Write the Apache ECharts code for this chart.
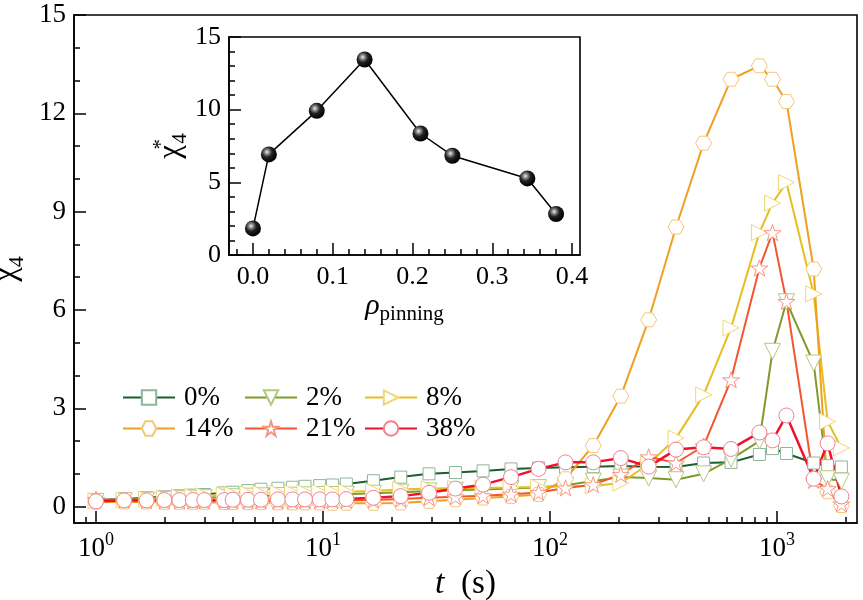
<!DOCTYPE html>
<html><head><meta charset="utf-8">
<script src="https://cdn.jsdelivr.net/npm/echarts@6/dist/echarts.min.js"></script>
<style>html,body{margin:0;padding:0;background:#fff}#c{width:863px;height:600px}</style>
</head><body><div id="c"></div>
<script>
// ---- data ----
const tValues = [1, 1.33, 1.67, 2, 2.33, 2.67, 3, 3.67, 4, 4.67, 5.33, 6.33, 7.33, 8.33, 9.67, 11, 12.67, 16.67, 22, 29.3, 38.3, 50.7, 67.3, 89, 117, 155, 205, 272, 359, 475, 627, 836, 955, 1100, 1450, 1670, 1920];
const chi0 = [0.2, 0.23, 0.27, 0.3, 0.33, 0.35, 0.37, 0.42, 0.44, 0.49, 0.53, 0.56, 0.59, 0.62, 0.64, 0.66, 0.69, 0.79, 0.9, 1.0, 1.04, 1.09, 1.15, 1.18, 1.2, 1.22, 1.24, 1.22, 1.21, 1.33, 1.35, 1.59, 1.77, 1.62, 1.33, 1.25, 1.21];
const chi2 = [0.16, 0.18, 0.2, 0.22, 0.24, 0.26, 0.27, 0.29, 0.3, 0.32, 0.33, 0.34, 0.35, 0.36, 0.37, 0.37, 0.38, 0.41, 0.44, 0.48, 0.5, 0.52, 0.55, 0.58, 0.65, 0.78, 0.9, 0.87, 0.82, 1.0, 1.45, 2.0, 4.74, 6.25, 4.38, 0.85, 0.78];
const chi8 = [0.18, 0.2, 0.23, 0.26, 0.29, 0.31, 0.33, 0.36, 0.37, 0.39, 0.4, 0.41, 0.42, 0.43, 0.44, 0.44, 0.45, 0.48, 0.52, 0.55, 0.56, 0.57, 0.58, 0.6, 0.62, 0.63, 0.72, 1.3, 2.09, 3.41, 5.45, 8.36, 9.26, 9.89, 6.49, 2.6, 1.79];
const chi14 = [0.14, 0.14, 0.14, 0.13, 0.13, 0.13, 0.13, 0.12, 0.12, 0.12, 0.12, 0.11, 0.11, 0.11, 0.11, 0.1, 0.1, 0.1, 0.11, 0.16, 0.21, 0.26, 0.31, 0.37, 0.85, 1.86, 3.37, 5.7, 8.53, 11.09, 13.04, 13.45, 13.04, 12.36, 7.25, 0.45, 0.03];
const chi21 = [0.22, 0.2, 0.18, 0.17, 0.17, 0.17, 0.17, 0.17, 0.17, 0.17, 0.17, 0.17, 0.17, 0.18, 0.18, 0.19, 0.19, 0.2, 0.23, 0.27, 0.3, 0.33, 0.38, 0.43, 0.57, 0.67, 0.98, 1.52, 1.33, 1.85, 3.87, 7.28, 8.36, 6.26, 0.8, 0.55, 0.08];
const chi38 = [0.16, 0.19, 0.19, 0.2, 0.2, 0.2, 0.2, 0.2, 0.21, 0.21, 0.21, 0.22, 0.22, 0.22, 0.22, 0.22, 0.23, 0.27, 0.32, 0.42, 0.55, 0.67, 0.9, 1.15, 1.35, 1.35, 1.48, 1.22, 1.74, 1.81, 1.76, 2.26, 2.02, 2.78, 0.85, 1.93, 0.31];
const seriesNames = ['0%', '2%', '8%', '14%', '21%', '38%'];

const rhoPinning = [0, 0.02, 0.08, 0.14, 0.21, 0.25, 0.344, 0.38];
const chiStar = [1.83, 6.92, 9.92, 13.45, 8.36, 6.83, 5.27, 2.82];

const mainYLabels = [0, 3, 6, 9, 12, 15];
const mainYMinor = [1, 2, 4, 5, 7, 8, 10, 11, 13, 14];
const mainXLabels = [1, 10, 100, 1000];
const mainXMinor = [0.9, 2, 3, 4, 5, 6, 7, 8, 9, 20, 30, 40, 50, 60, 70, 80, 90, 200, 300, 400, 500, 600, 700, 800, 900, 2000];
const insetXLabels = [0, 0.1, 0.2, 0.3, 0.4];
const insetXMinor = [-0.02, 0.02, 0.04, 0.06, 0.08, 0.12, 0.14, 0.16, 0.18, 0.22, 0.24, 0.26, 0.28, 0.32, 0.34, 0.36, 0.38];

// ---- styling ----
const FONT = 'Liberation Serif';
const hexPath = 'path://M-10,0L-5,-8.66L5,-8.66L10,0L5,8.66L-5,8.66Z';
const starPath = 'path://M0,-10L2.245,-3.09L9.511,-3.09L3.633,1.18L5.878,8.09L0,3.82L-5.878,8.09L-3.633,1.18L-9.511,-3.09L-2.245,-3.09Z';

function tok(size, extra) {
  return Object.assign({ fontFamily: FONT, fontSize: size, color: '#000' }, extra || {});
}

function lineSeries(name, vals, color, edge, symbol, size, rotate, width) {
  return {
    name: name, type: 'line', xAxisIndex: 0, yAxisIndex: 0,
    data: tValues.map((t, i) => [t, vals[i]]),
    symbol: symbol, symbolSize: size, symbolRotate: rotate, symbolKeepAspect: true,
    showSymbol: true, showAllSymbol: true,
    lineStyle: { color: color, width: width },
    itemStyle: { color: '#fff', borderColor: edge, borderWidth: 1 },
    emphasis: { disabled: true },
    silent: true
  };
}

const axisLineStyle = { color: '#000', width: 1.6 };
const tickStyle = { color: '#000', width: 1.5 };

const chart = echarts.init(document.getElementById('c'));
const legendCommon = {
  orient: 'vertical', top: 379, itemWidth: 52, itemHeight: 18, itemGap: 4,
  selectedMode: false,
  formatter: n => '{a|' + n + '}',
  textStyle: tok(27, { lineHeight: 27, rich: { a: tok(27, { lineHeight: 27, padding: [0, 0, 0, 4] }) } })
};

chart.setOption({
  animation: false,
  backgroundColor: '#fff',
  textStyle: { fontFamily: FONT },
  grid: [
    { left: 74, top: 15, right: 6, bottom: 77, show: true, borderColor: '#000', borderWidth: 1.6, outerBoundsMode: 'none', containLabel: false },
    { left: 229, top: 37, right: 283, bottom: 345, show: true, borderColor: '#000', borderWidth: 1.6, backgroundColor: '#fff', outerBoundsMode: 'none', containLabel: false }
  ],
  legend: [
    Object.assign({ left: 117, data: ['0%', '14%'] }, legendCommon),
    Object.assign({ left: 239, data: ['2%', '21%'] }, legendCommon),
    Object.assign({ left: 359, data: ['8%', '38%'] }, legendCommon)
  ],
  xAxis: [
    {
      type: 'log', logBase: 10, gridIndex: 0, min: 0.8, max: 2250, position: 'bottom',
      axisLine: { show: true, onZero: false, lineStyle: axisLineStyle },
      axisTick: { show: true, inside: true, length: 12, customValues: mainXLabels, lineStyle: tickStyle },
      axisLabel: {
        customValues: mainXLabels, margin: 8,
        formatter: v => '{b|10}{sup|' + Math.round(Math.log10(v)) + '}',
        rich: {
          b: tok(27, { lineHeight: 31, verticalAlign: 'bottom' }),
          sup: tok(18, { lineHeight: 31, verticalAlign: 'top' })
        }
      },
      splitLine: { show: false },
      name: '{it|t}{n|  (s)}', nameLocation: 'middle', nameGap: 40,
      nameTextStyle: tok(33, { rich: { it: tok(34, { fontStyle: 'italic' }), n: tok(33) } })
    },
    {
      type: 'log', logBase: 10, gridIndex: 0, min: 0.8, max: 2250, position: 'bottom',
      axisLine: { show: false, onZero: false },
      axisTick: { show: true, inside: true, length: 6, customValues: mainXMinor, lineStyle: tickStyle },
      axisLabel: { show: false }, splitLine: { show: false }
    },
    {
      type: 'value', gridIndex: 1, min: -0.03, max: 0.41, position: 'bottom',
      axisLine: { show: true, onZero: false, lineStyle: axisLineStyle },
      axisTick: { show: true, inside: true, length: 12, customValues: insetXLabels, lineStyle: tickStyle },
      axisLabel: { customValues: insetXLabels, margin: 9, formatter: v => '{a|' + v.toFixed(1) + '}', rich: { a: tok(26) } },
      splitLine: { show: false },
      name: '{r|ρ}{s|pinning}', nameLocation: 'middle', nameGap: 36,
      nameTextStyle: tok(21, {
        rich: {
          r: tok(30, { fontStyle: 'italic', lineHeight: 34, verticalAlign: 'top' }),
          s: tok(21, { lineHeight: 34, verticalAlign: 'bottom' })
        }
      })
    },
    {
      type: 'value', gridIndex: 1, min: -0.03, max: 0.41, position: 'bottom',
      axisLine: { show: false, onZero: false },
      axisTick: { show: true, inside: true, length: 6, customValues: insetXMinor, lineStyle: tickStyle },
      axisLabel: { show: false }, splitLine: { show: false }
    }
  ],
  yAxis: [
    {
      type: 'value', gridIndex: 0, min: -0.5, max: 15, position: 'left',
      axisLine: { show: true, onZero: false, lineStyle: axisLineStyle },
      axisTick: { show: true, inside: true, length: 12, customValues: mainYLabels, lineStyle: tickStyle },
      axisLabel: { customValues: mainYLabels, margin: 8, formatter: v => '{a|' + v + '}', rich: { a: tok(27) } },
      splitLine: { show: false },
      name: '{c|χ}{sub|4}', nameLocation: 'middle', nameGap: 40, nameRotate: 90,
      nameTextStyle: tok(33, {
        rich: {
          c: tok(33, { lineHeight: 38, verticalAlign: 'top' }),
          sub: tok(22, { lineHeight: 38, verticalAlign: 'bottom' })
        }
      })
    },
    {
      type: 'value', gridIndex: 0, min: -0.5, max: 15, position: 'left',
      axisLine: { show: false, onZero: false },
      axisTick: { show: true, inside: true, length: 6, customValues: mainYMinor, lineStyle: tickStyle },
      axisLabel: { show: false }, splitLine: { show: false }
    },
    {
      type: 'value', gridIndex: 1, min: 0, max: 15, interval: 5, position: 'left',
      axisLine: { show: true, onZero: false, lineStyle: axisLineStyle },
      axisTick: { show: true, inside: true, length: 12, lineStyle: tickStyle },
      minorTick: { show: true, splitNumber: 5, length: 6, lineStyle: tickStyle },
      axisLabel: { margin: 8, formatter: v => '{a|' + v + '}', rich: { a: tok(26) } },
      splitLine: { show: false },
      name: '{c|χ}{sup|*}{sub|4}', nameLocation: 'middle', nameGap: 38, nameRotate: 90,
      nameTextStyle: tok(31, {
        rich: {
          c: tok(31, { lineHeight: 40, verticalAlign: 'middle' }),
          sup: tok(21, { lineHeight: 40, verticalAlign: 'top', width: 1 }),
          sub: tok(21, { lineHeight: 40, verticalAlign: 'bottom' })
        }
      })
    }
  ],
  series: [
    lineSeries(seriesNames[0], chi0, '#1d5e2c', '#8db59a', 'rect', 12, 0, 2),
    lineSeries(seriesNames[1], chi2, '#7f9b2b', '#b5c97a', 'triangle', 16, 180, 2),
    lineSeries(seriesNames[2], chi8, '#e6be1e', '#efd877', 'triangle', 16, -90, 2),
    lineSeries(seriesNames[3], chi14, '#eea021', '#f5c676', hexPath, 16, 0, 2),
    lineSeries(seriesNames[4], chi21, '#f45530', '#f6957f', starPath, 17, 0, 2),
    lineSeries(seriesNames[5], chi38, '#f0112e', '#f47f8e', 'circle', 15, 0, 2.5),
    {
      name: 'inset', type: 'line', xAxisIndex: 2, yAxisIndex: 2,
      data: rhoPinning.map((r, i) => [r, chiStar[i]]),
      symbol: 'circle', symbolSize: 16,
      lineStyle: { color: '#000', width: 1.5 },
      itemStyle: {
        color: { type: 'radial', x: 0.38, y: 0.35, r: 0.65,
          colorStops: [{ offset: 0, color: '#f4f4f4' }, { offset: 0.18, color: '#9a9a9a' }, { offset: 0.5, color: '#222' }, { offset: 1, color: '#000' }] },
        borderWidth: 0
      },
      emphasis: { disabled: true }, silent: true, z: 5
    }
  ]
});
</script></body></html>
